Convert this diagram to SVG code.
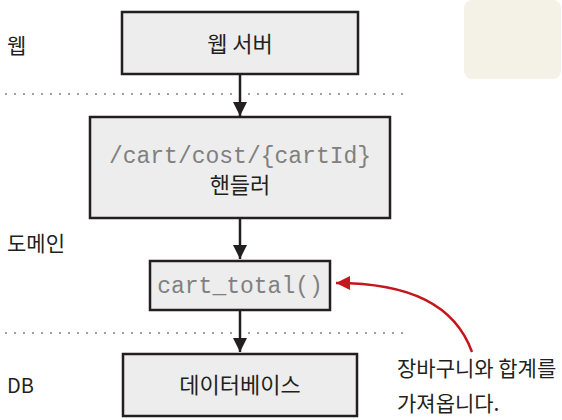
<svg xmlns="http://www.w3.org/2000/svg" width="562" height="420" viewBox="0 0 562 420">
<defs>
<style>
.box{fill:#ededed;stroke:#231f20;stroke-width:2.5}
.kr{font-family:"Noto Sans CJK KR","Noto Sans",sans-serif;fill:#231f20}
.mono{font-family:"Liberation Mono","Courier New",monospace;fill:#808080;font-size:23px}
.dot{stroke:#8a8a8a;stroke-width:2.2;stroke-linecap:round;stroke-dasharray:0 9;fill:none}
.arr{stroke:#231f20;stroke-width:2.5;fill:none}
</style>
<marker id="ah" viewBox="0 0 10 10" refX="10" refY="5" markerWidth="16" markerHeight="14" markerUnits="userSpaceOnUse" orient="auto">
<path d="M0,0 L10,5 L0,10 Z" fill="#231f20"/>
</marker>
<marker id="rh" viewBox="0 0 10 10" refX="10" refY="5" markerWidth="20" markerHeight="14" markerUnits="userSpaceOnUse" orient="auto">
<path d="M0,0 L10,5 L0,10 Z" fill="#c4161c"/>
</marker>
</defs>
<rect x="464" y="0" width="97" height="79" rx="8" fill="#f4f2e6"/>
<g id="layers">
<line class="dot" x1="6" y1="94" x2="404" y2="94"/>
<line class="dot" x1="6" y1="333" x2="404" y2="333"/>
<text class="kr" x="7" y="53" font-size="21">웹</text>
<text class="kr" x="7" y="251" font-size="21">도메인</text>
<text class="kr" x="7" y="393" font-size="20">DB</text>
</g>
<g id="connectors">
<line class="arr" x1="240" y1="74" x2="240" y2="116" marker-end="url(#ah)"/>
<line class="arr" x1="240" y1="218" x2="240" y2="259" marker-end="url(#ah)"/>
<line class="arr" x1="240" y1="310" x2="240" y2="352" marker-end="url(#ah)"/>
<path d="M472,352 C455,305 410,283 336,283" stroke="#c4161c" stroke-width="2.5" fill="none" marker-end="url(#rh)"/>
</g>
<g id="web-server">
<rect class="box" x="122" y="12" width="236" height="62"/>
<text class="kr" x="240" y="52" font-size="22" text-anchor="middle">웹 서버</text>
</g>
<g id="handler">
<rect class="box" x="90" y="117" width="300" height="101"/>
<text class="mono" x="240" y="163" text-anchor="middle">/cart/cost/{cartId}</text>
<text class="kr" x="240" y="193" font-size="22" text-anchor="middle">핸들러</text>
</g>
<g id="cart-total">
<rect class="box" x="150" y="261" width="180" height="49"/>
<text class="mono" x="240" y="293" text-anchor="middle">cart_total()</text>
</g>
<g id="database">
<rect class="box" x="123" y="354" width="234" height="62"/>
<text class="kr" x="240" y="393" font-size="22" text-anchor="middle">데이터베이스</text>
</g>
<g id="note">
<text class="kr" x="397" y="376" font-size="21">장바구니와 합계를</text>
<text class="kr" x="397" y="411" font-size="21">가져옵니다.</text>
</g>
</svg>
